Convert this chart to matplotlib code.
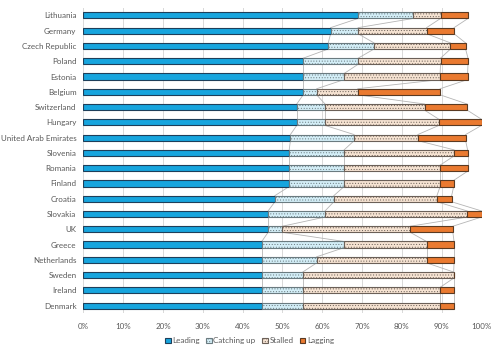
import numpy as np
import matplotlib
matplotlib.use("Agg")
import matplotlib.pyplot as plt

plt.rcParams['font.family'] = ['Lato', 'DejaVu Sans']
plt.rcParams['hatch.linewidth'] = 0.4

# dane (udzialy w %)
countries = ["Lithuania", "Germany", "Czech Republic", "Poland", "Estonia", "Belgium",
             "Switzerland", "Hungary", "United Arab Emirates", "Slovenia", "Romania",
             "Finland", "Croatia", "Slovakia", "UK", "Greece", "Netherlands", "Sweden",
             "Ireland", "Denmark"]
leading = [69.0, 62.1, 61.5, 55.2, 55.2, 55.2, 53.6, 53.6, 52.0, 51.7, 51.7,
           51.7, 48.1, 46.4, 46.4, 44.8, 44.8, 44.8, 44.8, 44.8]
catching_up = [13.8, 6.9, 11.5, 13.8, 10.3, 3.4, 7.1, 7.1, 16.0, 13.8, 13.8,
               13.8, 14.8, 14.3, 3.6, 20.7, 13.8, 10.3, 10.3, 10.3]
stalled = [6.9, 17.2, 19.2, 20.7, 24.1, 10.3, 25.0, 28.6, 16.0, 27.6, 24.1,
           24.1, 25.9, 35.7, 32.1, 20.7, 27.6, 37.9, 34.5, 34.5]
lagging = [6.9, 6.9, 3.8, 6.9, 6.9, 20.7, 10.7, 10.7, 12.0, 3.4, 6.9,
           3.4, 3.7, 3.6, 10.7, 6.9, 6.9, 0.0, 3.4, 3.4]
series_names = ["Leading", "Catching up", "Stalled", "Lagging"]

colors = ["#17a5de", "#d3eef7", "#f6e3d2", "#ea7a30"]
edges = ["#1e3f5a", "#6b7b80", "#6b6058", "#5a3a22"]
hatches = [None, "......", "......", None]

fig, ax = plt.subplots(figsize=(4.99, 3.54), dpi=100)
fig.subplots_adjust(left=0.167, right=0.965, top=0.978, bottom=0.115)

y = np.arange(len(countries))
h = 0.4
data = [leading, catching_up, stalled, lagging]
left = np.zeros(len(countries))
ends = []
for vals, c, e, ht, name in zip(data, colors, edges, hatches, series_names):
    vals = np.array(vals)
    ax.barh(y, vals, height=h, left=left, color=c, edgecolor=e, linewidth=0.8,
            hatch=ht, label=name, zorder=3)
    left = left + vals
    ends.append(left.copy())

# linie serii (jak w Excelu)
for cum in ends:
    for i in range(len(countries) - 1):
        ax.plot([cum[i], cum[i + 1]], [y[i] + h / 2, y[i + 1] - h / 2],
                color="#b5b5b5", lw=0.6, zorder=2)

ax.set_xlim(0, 100)
ax.set_ylim(len(countries) - 0.5, -0.5)
ax.set_yticks(y)
ax.set_yticklabels(countries)
ax.set_xticks(np.arange(0, 101, 10))
ax.set_xticklabels([f"{v}%" for v in range(0, 101, 10)])
ax.tick_params(axis="both", length=0, labelsize=5.8, colors="#595959", pad=5)
ax.tick_params(axis="x", pad=7)
ax.grid(axis="x", color="#d9d9d9", lw=0.7, zorder=0)
for s in ax.spines.values():
    s.set_visible(False)

handles, labels = ax.get_legend_handles_labels()
leg = fig.legend(handles, labels, loc="center", bbox_to_anchor=(0.5, 0.037), ncol=4,
                 frameon=False, fontsize=5.8, handlelength=0.7, handleheight=0.7,
                 handletextpad=0.2, columnspacing=0.8)
for t in leg.get_texts():
    t.set_color("#595959")

fig.savefig("out.png", dpi=100)
